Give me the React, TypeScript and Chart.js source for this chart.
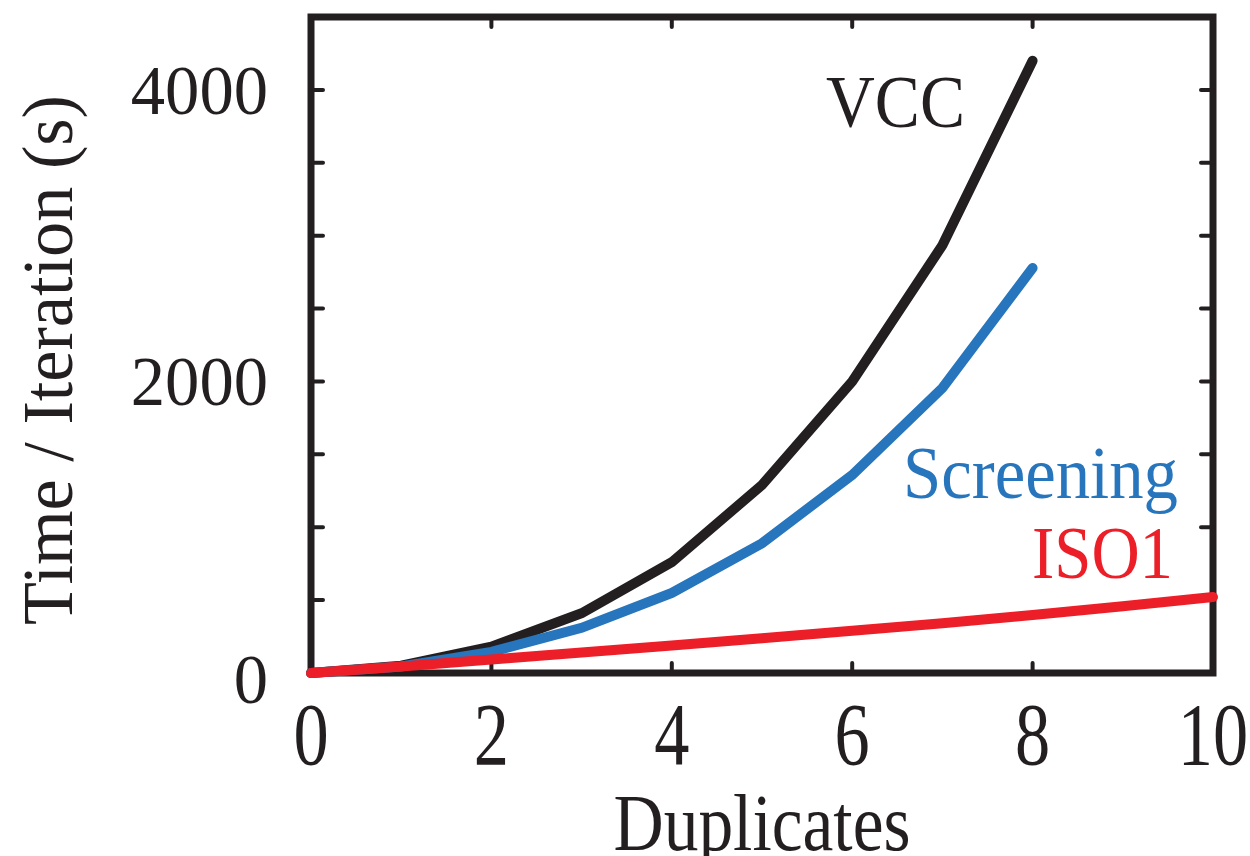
import React, { useEffect, useRef } from "react";
import { Chart, registerables } from "chart.js";

Chart.register(...registerables);

// ---- data ----
const duplicates = [0, 1, 2, 3, 4, 5, 6, 7, 8, 9, 10];
const vccTimes = [0, 50, 180, 410, 760, 1290, 2000, 2935, 4200];
const screeningTimes = [0, 45, 145, 310, 549, 890, 1358, 1955, 2778];
const iso1Times = [0, 45, 92, 140, 188, 238, 290, 342, 398, 458, 521];
const seriesNames = ["VCC", "Screening", "ISO1"];
const xTickValues = [0, 2, 4, 6, 8, 10];
const xInnerTicks = [2, 4, 6, 8];
const yTickValues = [0, 2000, 4000];
const yInnerTicks = [500, 1000, 1500, 2000, 2500, 3000, 3500, 4000];
const xTitle = "Duplicates";
const yTitle = "Time / Iteration (s)";

const INK = "#231f20";
const BLUE = "#2775bc";
const RED = "#ec1e28";
const FONT = "'Liberation Serif', 'Times New Roman', serif";

type TextOpts = {
  size: number;
  color?: string;
  align?: CanvasTextAlign;
  width?: number;
  sx?: number;
  rotate?: number;
};

function drawText(ctx: CanvasRenderingContext2D, text: string, x: number, y: number, o: TextOpts) {
  ctx.save();
  ctx.font = `${o.size}px ${FONT}`;
  ctx.fillStyle = o.color || INK;
  ctx.textBaseline = "alphabetic";
  ctx.textAlign = o.align || "left";
  let sx = o.sx ?? 1;
  if (o.width) sx = o.width / ctx.measureText(text).width;
  ctx.translate(x, y);
  if (o.rotate) ctx.rotate(o.rotate);
  ctx.scale(sx, 1);
  ctx.fillText(text, 0, 0);
  ctx.restore();
}

const framePlugin = {
  id: "frame",
  beforeDatasetsDraw(chart: any) {
    const { ctx, chartArea: a, scales } = chart;
    const xs = scales.x;
    const ys = scales.y;
    ctx.save();
    ctx.strokeStyle = INK;
    ctx.lineWidth = 7;
    ctx.lineJoin = "miter";
    ctx.strokeRect(a.left, a.top, a.right - a.left, a.bottom - a.top);
    ctx.lineWidth = 4;
    ctx.lineCap = "round";
    ctx.beginPath();
    for (const v of yInnerTicks) {
      const py = ys.getPixelForValue(v);
      ctx.moveTo(a.left, py);
      ctx.lineTo(a.left + 12, py);
      ctx.moveTo(a.right, py);
      ctx.lineTo(a.right - 12, py);
    }
    for (const v of xInnerTicks) {
      const px = xs.getPixelForValue(v);
      ctx.moveTo(px, a.bottom);
      ctx.lineTo(px, a.bottom - 10);
      ctx.moveTo(px, a.top);
      ctx.lineTo(px, a.top + 10);
    }
    ctx.stroke();
    ctx.restore();
  },
  afterDraw(chart: any) {
    const { ctx, scales } = chart;
    const xs = scales.x;
    const ys = scales.y;
    for (const v of yTickValues) {
      const off = v === 0 ? 30 : 24;
      drawText(ctx, String(v), 268, ys.getPixelForValue(v) + off, { size: 70, align: "right", sx: 0.98 });
    }
    for (const v of xTickValues) {
      drawText(ctx, String(v), xs.getPixelForValue(v), 764, { size: 88, align: "center", sx: 0.8 });
    }
    drawText(ctx, xTitle, 762, 850, { size: 80, align: "center", width: 297 });
    drawText(ctx, yTitle, 72, 360, { size: 72, align: "center", width: 530, rotate: -Math.PI / 2 });
    drawText(ctx, seriesNames[0], 826, 127, { size: 74, width: 139 });
    drawText(ctx, seriesNames[1], 903, 498, { size: 73, width: 275, color: BLUE });
    drawText(ctx, seriesNames[2], 1032, 578, { size: 73, width: 141, color: RED });
  },
};

export default function App() {
  const ref = useRef<HTMLCanvasElement | null>(null);
  useEffect(() => {
    document.body.style.margin = "0";
    const canvas = ref.current;
    if (!canvas) return;
    const pts = (ys: number[]) => ys.map((y, i) => ({ x: duplicates[i], y }));
    const common = {
      fill: false,
      borderWidth: 10,
      pointRadius: 0,
      borderCapStyle: "round" as const,
      borderJoinStyle: "miter" as const,
      tension: 0,
      clip: false as any,
    };
    const chart = new Chart(canvas, {
      type: "line",
      data: {
        datasets: [
          { ...common, label: seriesNames[2], data: pts(iso1Times), borderColor: RED, order: 1 },
          { ...common, label: seriesNames[1], data: pts(screeningTimes), borderColor: BLUE, order: 2 },
          { ...common, label: seriesNames[0], data: pts(vccTimes), borderColor: INK, order: 3 },
        ],
      },
      options: {
        animation: false,
        responsive: false,
        devicePixelRatio: 1,
        layout: { padding: { left: 311, right: 37, top: 17, bottom: 183 } },
        plugins: { legend: { display: false }, tooltip: { enabled: false } },
        scales: {
          x: { type: "linear", min: 0, max: 10, display: false },
          y: { type: "linear", min: 0, max: 4500, display: false },
        },
      },
      plugins: [framePlugin],
    });
    return () => chart.destroy();
  }, []);
  return (
    <div style={{ width: 1250, height: 856, background: "#fff" }}>
      <canvas ref={ref} width={1250} height={856} style={{ display: "block" }} />
    </div>
  );
}
